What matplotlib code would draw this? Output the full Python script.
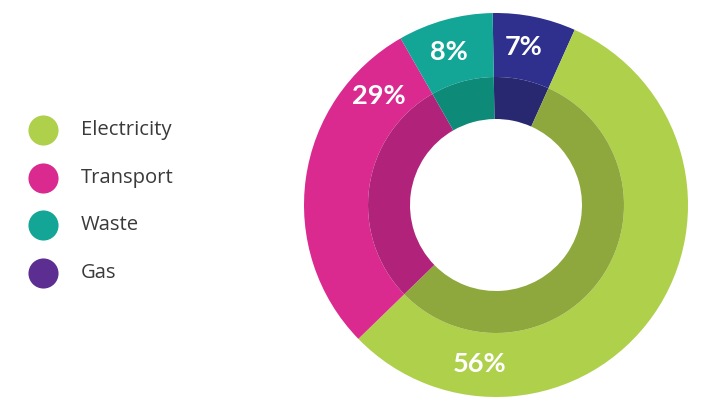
import matplotlib
matplotlib.use("Agg")
import matplotlib.pyplot as plt
import numpy as np

# Data
categories = ["Electricity", "Transport", "Waste", "Gas"]
values = [56, 29, 8, 7]
labels = ["56%", "29%", "8%", "7%"]

# Styling
outer_colors = {"Electricity": "#AED04B", "Transport": "#DA2A90", "Waste": "#13A696", "Gas": "#2F2F8E"}
inner_colors = {"Electricity": "#8FA83D", "Transport": "#B1237A", "Waste": "#0E8A79", "Gas": "#27286F"}
legend_colors = {"Electricity": "#AED04B", "Transport": "#DA2A90", "Waste": "#13A696", "Gas": "#5C2E92"}
label_angles = {"Electricity": -96, "Transport": 137, "Waste": 107, "Gas": 80}

W, H = 711, 413
fig = plt.figure(figsize=(W / 100, H / 100), dpi=100)
ax = fig.add_axes([0, 0, 1, 1])

cx, cy = 496, H - 205
R_out, R_mid, R_in = 192, 128, 86

# pie order clockwise from top: Gas, Electricity, Transport, Waste
order = ["Gas", "Electricity", "Transport", "Waste"]
vals = [values[categories.index(c)] for c in order]
ax.pie(vals, radius=R_out, center=(cx, cy), startangle=91, counterclock=False,
       colors=[outer_colors[c] for c in order],
       wedgeprops=dict(width=R_out - R_mid, linewidth=0), frame=True)
ax.pie(vals, radius=R_mid, center=(cx, cy), startangle=91, counterclock=False,
       colors=[inner_colors[c] for c in order],
       wedgeprops=dict(width=R_mid - R_in, linewidth=0), frame=True)
ax.set_xlim(0, W)
ax.set_ylim(0, H)
ax.set_aspect("equal")
ax.axis("off")

r_lab = 160
for c, lab in zip(categories, labels):
    a = np.deg2rad(label_angles[c])
    ax.text(cx + r_lab * np.cos(a), cy + r_lab * np.sin(a), lab, color="white",
            fontsize=19.5, fontweight="bold", family="Lato", ha="center", va="center")

# Legend
lx, ly0, dy = 43, H - 130, 47.7
for i, c in enumerate(categories):
    y = ly0 - i * dy
    ax.scatter([lx], [y], s=470, color=legend_colors[c], linewidths=0, zorder=3)
    ax.text(81, y, c, fontsize=14.6, color="#3A3A3A", family="Open Sans", ha="left", va="center")

fig.savefig("out.png", dpi=100)
